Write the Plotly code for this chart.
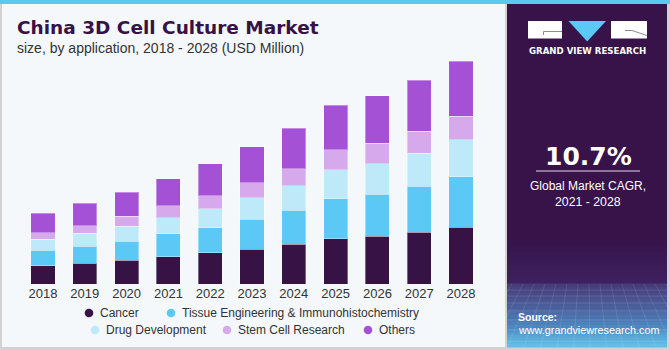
import plotly.graph_objects as go

# ---------------- data (relative units) ----------------
years = ["2018", "2019", "2020", "2021", "2022", "2023", "2024", "2025", "2026", "2027", "2028"]
series_names = ["Cancer", "Tissue Engineering & Immunohistochemistry", "Drug Development",
                "Stem Cell Research", "Others"]
cancer = [18.7, 21.0, 24.0, 27.7, 31.7, 35.3, 40.0, 45.7, 48.3, 52.3, 57.0]
tissue = [15.3, 17.3, 19.3, 22.7, 25.0, 29.7, 34.0, 40.0, 42.0, 45.7, 50.7]
drug = [11.0, 13.0, 14.7, 16.3, 19.0, 21.7, 24.7, 29.0, 30.3, 33.0, 36.7]
stem = [6.7, 7.3, 10.0, 11.7, 13.0, 15.0, 17.0, 19.7, 20.7, 22.3, 23.7]
others = [19.3, 22.3, 24.0, 27.0, 31.7, 35.7, 40.3, 44.7, 47.3, 51.0, 55.0]
series_values = [cancer, tissue, drug, stem, others]
colors = ["#361245", "#5bc8f5", "#bde9f9", "#d5a9ec", "#a451d6"]

W, H = 670, 350


def px(x):
    return x / W


def py(y):
    return 1 - y / H


fig = go.Figure()
for name, vals, col in zip(series_names, series_values, colors):
    fig.add_trace(go.Bar(
        x=years, y=vals, name=name, showlegend=False,
        marker=dict(color=col, line=dict(color="rgba(255,255,255,0.35)", width=1)),
        hoverinfo="x+y+name",
    ))

shapes = []
# frame / panels
shapes.append(dict(type="rect", xref="paper", yref="paper", x0=px(2), x1=px(505), y0=py(347), y1=py(4),
                   fillcolor="#f4f8fb", line=dict(width=0), layer="below"))
shapes.append(dict(type="rect", xref="paper", yref="paper", x0=px(507), x1=px(667), y0=py(347), y1=py(4),
                   fillcolor="#37134a", line=dict(width=0), layer="below"))
shapes.append(dict(type="rect", xref="paper", yref="paper", x0=0, x1=1, y0=py(4), y1=1,
                   fillcolor="#5bc8f0", line=dict(width=0), layer="below"))


def lerp(c1, c2, t):
    a = [int(c1[i:i + 2], 16) for i in (1, 3, 5)]
    b = [int(c2[i:i + 2], 16) for i in (1, 3, 5)]
    return "rgb(%d,%d,%d)" % tuple(round(a[k] + (b[k] - a[k]) * t) for k in range(3))


# right panel bottom gradient
stops = [(240, "#37134a"), (283, "#3d2160"), (284, "#463a78"), (305, "#4b5c98"),
         (325, "#4d84bd"), (347, "#62c3ec")]
for (ya, ca), (yb, cb) in zip(stops[:-1], stops[1:]):
    n = max(1, int((yb - ya) / 3))
    for k in range(n):
        y0 = ya + (yb - ya) * k / n
        y1 = ya + (yb - ya) * (k + 1) / n
        shapes.append(dict(type="rect", xref="paper", yref="paper", x0=px(507), x1=px(667),
                           y0=py(y1 + 0.5), y1=py(y0), fillcolor=lerp(ca, cb, (k + 0.5) / n),
                           line=dict(width=0), layer="below"))
# faint grid in the gradient
for gy in [290, 296, 303, 311, 320, 330, 341]:
    shapes.append(dict(type="line", xref="paper", yref="paper", x0=px(507), x1=px(667), y0=py(gy), y1=py(gy),
                       line=dict(color="rgba(255,255,255,0.12)", width=1), layer="below"))
for gx in range(512, 667, 11):
    shapes.append(dict(type="line", xref="paper", yref="paper", x0=px(gx), x1=px(587 + (gx - 587) * 1.5),
                       y0=py(284), y1=py(347),
                       line=dict(color="rgba(255,255,255,0.10)", width=1), layer="below"))

# logo
shapes.append(dict(type="rect", xref="paper", yref="paper", x0=px(528), x1=px(562), y0=py(38.5), y1=py(21),
                   fillcolor="white", line=dict(width=0)))
shapes.append(dict(type="path", xref="paper", yref="paper",
                   path="M %f,%f L %f,%f L %f,%f" % (px(562), py(31.5), px(543.5), py(31.5), px(543.5), py(35)),
                   line=dict(color="#8c8c9c", width=1)))
shapes.append(dict(type="path", xref="paper", yref="paper",
                   path="M %f,%f L %f,%f L %f,%f Z" % (px(568.5), py(21), px(606), py(21), px(587.2), py(41.5)),
                   fillcolor="#5bc8f5", line=dict(width=0)))
shapes.append(dict(type="rect", xref="paper", yref="paper", x0=px(611), x1=px(647), y0=py(38.5), y1=py(21),
                   fillcolor="white", line=dict(width=0)))
shapes.append(dict(type="path", xref="paper", yref="paper",
                   path="M %f,%f L %f,%f L %f,%f" % (px(625), py(30.5), px(632), py(30.5), px(647), py(35.5)),
                   line=dict(color="#8c8c9c", width=1)))
# CAGR underline
shapes.append(dict(type="line", xref="paper", yref="paper", x0=px(536), x1=px(640), y0=py(171), y1=py(171),
                   line=dict(color="#e0dae6", width=1)))

annotations = []


def txt(text, x, y, size, color, family="Liberation Sans, Arial", bold=False, xanchor="left"):
    annotations.append(dict(text=("<b>%s</b>" % text) if bold else text, x=px(x), y=py(y),
                            xref="paper", yref="paper", xanchor=xanchor, yanchor="middle",
                            showarrow=False, font=dict(size=size, color=color, family=family)))


txt("China 3D Cell Culture Market", 15, 28, 18.5, "#361245", family="DejaVu Sans", bold=True)
txt("size, by application, 2018 - 2028 (USD Million)", 15, 48, 14, "#333333")
txt("GRAND VIEW RESEARCH", 587.5, 51, 8.6, "white", family="DejaVu Sans", bold=True, xanchor="center")
txt("10.7%", 588, 156, 25, "white", family="DejaVu Sans", bold=True, xanchor="center")
txt("Global Market CAGR,", 587.5, 186.5, 12, "white", xanchor="center")
txt("2021 - 2028", 587.5, 202, 12.3, "white", xanchor="center")
txt("Source:", 516, 316.5, 10.5, "white", bold=True)
txt("www.grandviewresearch.com", 516, 330, 10.8, "white")

# custom legend (circles + labels) built from the series
legend_pos = [(89, 313), (171, 313), (95, 330), (227, 330), (368, 330)]
r = 4.3
for name, col, (lx, ly) in zip(series_names, colors, legend_pos):
    shapes.append(dict(type="circle", xref="paper", yref="paper", x0=px(lx - r), x1=px(lx + r),
                       y0=py(ly + r), y1=py(ly - r), fillcolor=col, line=dict(width=0)))
    txt(name, lx + 9, ly, 12, "#333333")

fig.update_layout(
    width=W, height=H,
    margin=dict(l=0, r=0, t=0, b=0),
    paper_bgcolor="#d2d2d2",
    plot_bgcolor="rgba(0,0,0,0)",
    barmode="stack",
    bargap=0.425,
    showlegend=False,
    xaxis=dict(domain=[px(22.1), px(481.9)], showgrid=False, zeroline=False, showline=False, ticks="",
               tickfont=dict(size=13, color="#333333", family="Liberation Sans, Arial"), fixedrange=True),
    yaxis=dict(domain=[py(284.3), py(55)], range=[0, 229.3], visible=False, fixedrange=True),
    shapes=shapes,
    annotations=annotations,
)

fig.write_html("out.html")
